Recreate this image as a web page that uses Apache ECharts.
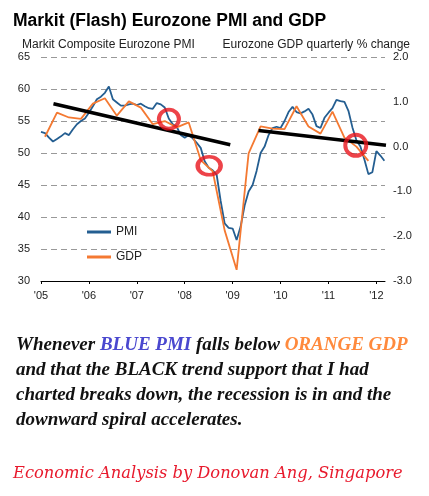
<!DOCTYPE html>
<html>

<head>
    <meta charset="UTF-8">
    <title>Markit (Flash) Eurozone PMI and GDP</title>
    <script type="text/javascript" src="https://cdn.jsdelivr.net/npm/echarts@6/dist/echarts.min.js"></script>
    <style>
        html, body { margin: 0; padding: 0; background: #fff; }
    </style>
</head>

<body>
    <div id="chart" style="width: 429px; height: 496px;"></div>
    <script>
        // monthly composite PMI, Jan 2005 .. Mar 2012
        var pmiStart = 2005;
        var pmi = [
            53.3, 53.1, 52.4, 51.8, 52.2, 52.6, 53.1, 52.8, 53.7, 54.5, 55.0, 55.4,
            56.3, 57.3, 58.4, 58.8, 59.4, 60.4, 58.4, 57.9, 57.4, 57.4, 57.6, 57.7,
            57.5, 57.7, 57.3, 57.0, 56.9, 57.8, 57.6, 57.1, 55.4, 54.5, 54.1, 52.8,
            52.4, 52.8, 52.3, 51.6, 50.8, 48.7, 47.7, 47.3, 46.6, 42.5, 39.0, 38.3,
            38.2, 36.4, 38.5, 41.8, 44.0, 45.0, 47.2, 50.0, 51.0, 52.8, 53.9, 54.1,
            53.9, 55.0, 56.4, 57.2, 56.4, 56.2, 56.5, 56.9, 56.0, 54.2, 53.9, 55.5,
            56.3, 57.0, 58.3, 58.1, 58.0, 56.6, 54.0, 52.0, 51.0, 49.0, 46.7, 47.0,
            50.3, 49.6, 48.8
        ];
        // quarterly GDP % change, Q1 2005 .. Q4 2011
        var gdp = [
            0.22, 0.76, 0.65, 0.62, 0.96, 1.08, 0.69, 1.01, 0.87, 0.50, 0.57, 0.43,
            0.54, -0.30, -0.55, -1.87, -2.75, -0.15, 0.45, 0.40, 0.39, 0.90, 0.45, 0.29,
            0.78, 0.20, 0.00, -0.32
        ];
        var years = [2005, 2006, 2007, 2008, 2009, 2010, 2011, 2012];
        // hand drawn trend supports (year, PMI)
        var trendA = [[2005.26, 57.7], [2008.95, 51.3]];
        var trendB = [[2009.54, 53.5], [2012.2, 51.2]];
        // red circles (year, PMI)
        var circles = [[2007.67, 55.3], [2008.51, 48.0], [2011.57, 51.2]];
        var circleSizes = [[20, 19], [23, 18], [21, 21]];

        var pmiData = pmi.map(function (v, i) { return [pmiStart + i / 12, v]; });
        var gdpData = gdp.map(function (v, i) { return [pmiStart + (1 + 3 * i) / 12, v]; });
        var circleData = circles.map(function (c, i) {
            return { value: c, symbolSize: circleSizes[i] };
        });

        var sans = 'Liberation Sans, Arial, sans-serif';
        var serif = 'Liberation Serif, serif';
        var bodyStyle = { fontFamily: serif, fontSize: 19, fontStyle: 'italic', fontWeight: 'bold', color: '#111' };
        function rich(color) {
            return { fontFamily: serif, fontSize: 19, fontStyle: 'italic', fontWeight: 'bold', color: color };
        }

        var chart = echarts.init(document.getElementById('chart'), null, { renderer: 'canvas' });
        chart.setOption({
            backgroundColor: '#fff',
            animation: false,
            title: [
                { text: 'Markit (Flash) Eurozone PMI and GDP', left: 8, top: 7, textStyle: { fontFamily: sans, fontSize: 17.5, fontWeight: 'bold', color: '#000' } },
                { text: 'Markit Composite Eurozone PMI', left: 17, top: 34, textStyle: { fontFamily: sans, fontSize: 12, fontWeight: 'normal', color: '#222' } },
                { text: 'Eurozone GDP quarterly % change', right: 14, top: 34, textStyle: { fontFamily: sans, fontSize: 12, fontWeight: 'normal', color: '#222' } },
                { text: 'Whenever {b|BLUE PMI} falls below {o|ORANGE GDP}', left: 11, top: 331, textStyle: Object.assign({ rich: { b: rich('#4a48cf'), o: rich('#ff8a3d') } }, bodyStyle) },
                { text: 'and that the BLACK trend support that I had', left: 11, top: 356, textStyle: bodyStyle },
                { text: 'charted breaks down, the recession is in and the', left: 11, top: 381, textStyle: bodyStyle },
                { text: 'downward spiral accelerates.', left: 11, top: 406, textStyle: bodyStyle },
                { text: 'Economic Analysis by Donovan Ang, Singapore', left: 8, top: 461, textStyle: { fontFamily: 'DejaVu Serif, serif', fontSize: 16.3, fontStyle: 'italic', fontWeight: 'normal', color: '#e8192c' } }
            ],
            legend: {
                data: ['PMI', 'GDP'],
                orient: 'vertical',
                left: 82,
                top: 221,
                icon: 'rect',
                itemWidth: 24,
                itemHeight: 3,
                itemGap: 13,
                textStyle: { fontFamily: sans, fontSize: 12, color: '#222' }
            },
            grid: { left: 41, right: 44, top: 57, bottom: 215, containLabel: false },
            xAxis: {
                type: 'value',
                min: 2005,
                max: 2012.18,
                splitLine: { show: false },
                axisLine: { onZero: false, lineStyle: { color: '#000', width: 1 } },
                axisTick: { show: true, length: 3, lineStyle: { color: '#000' }, customValues: years },
                axisLabel: {
                    customValues: years,
                    fontFamily: sans, fontSize: 11, color: '#222', margin: 9,
                    formatter: function (v) { return "'" + String(Math.round(v)).slice(2); }
                }
            },
            yAxis: [
                {
                    type: 'value',
                    min: 30, max: 65, interval: 5,
                    axisLine: { show: false },
                    axisTick: { show: false },
                    axisLabel: { fontFamily: sans, fontSize: 11, color: '#222', margin: 11 },
                    splitLine: { lineStyle: { color: '#999', type: [6, 4], width: 1 } }
                },
                {
                    type: 'value',
                    min: -3, max: 2, interval: 1,
                    axisLine: { show: false },
                    axisTick: { show: false },
                    splitLine: { show: false },
                    axisLabel: {
                        fontFamily: sans, fontSize: 11, color: '#222', margin: 8,
                        formatter: function (v) { return v.toFixed(1); }
                    }
                }
            ],
            series: [
                {
                    name: 'PMI', type: 'line', yAxisIndex: 0, data: pmiData,
                    showSymbol: false, symbol: 'none', color: '#245e91',
                    lineStyle: { color: '#245e91', width: 1.8 }, z: 2
                },
                {
                    name: 'GDP', type: 'line', yAxisIndex: 1, data: gdpData,
                    showSymbol: false, symbol: 'none', color: '#f47932',
                    lineStyle: { color: '#f47932', width: 1.8 }, z: 3
                },
                {
                    name: 'trendA', type: 'line', yAxisIndex: 0, data: trendA,
                    symbol: 'none', lineStyle: { color: '#000', width: 3.5 }, z: 4
                },
                {
                    name: 'trendB', type: 'line', yAxisIndex: 0, data: trendB,
                    symbol: 'none', lineStyle: { color: '#000', width: 3.5 }, z: 4, clip: false
                },
                {
                    name: 'circles', type: 'scatter', yAxisIndex: 0, data: circleData,
                    symbol: 'circle',
                    itemStyle: { color: 'rgba(0,0,0,0)', borderColor: '#e8141c', borderWidth: 4 }, z: 5
                }
            ]
        });
    </script>

</body>

</html>
